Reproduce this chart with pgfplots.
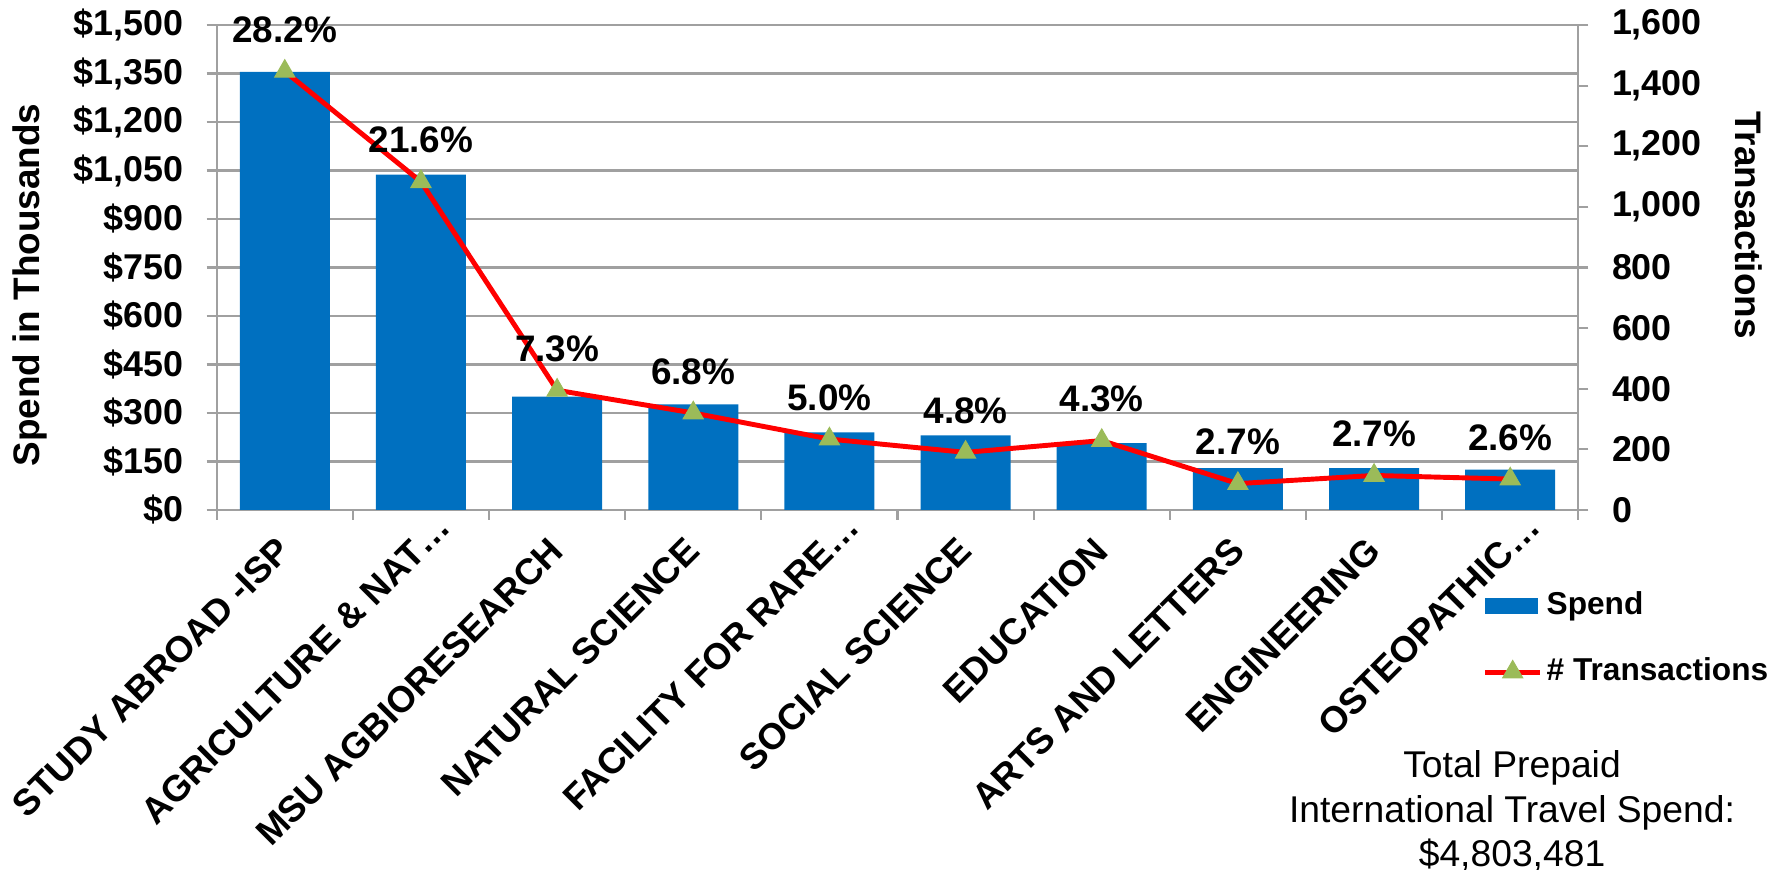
\documentclass[border=0pt]{standalone}
\usepackage{pgfplots}
\pgfplotsset{compat=1.18}
\usepackage{pgfplotstable}
\usepackage{fontspec}
\setmainfont{Liberation Sans}

\definecolor{barblue}{HTML}{0070C0}
\definecolor{markgreen}{HTML}{9BBB59}
\definecolor{gridgray}{HTML}{A0A0A0}

% spend in thousands, number of transactions, share of spend
\pgfplotstableread{
x spend tx lbl
0 1354.6 1447 28.2
1 1037.5 1083 21.6
2 350.7 395 7.3
3 326.6 320 6.8
4 240.2 234 5.0
5 230.6 190 4.8
6 206.5 229 4.3
7 129.7 87 2.7
8 129.7 114 2.7
9 124.9 102 2.6
}\spenddata

\begin{document}
\begin{tikzpicture}
\begin{axis}[
    name=main,
    width=13.616cm, height=4.85cm, scale only axis,
    xmin=-0.5, xmax=9.5, ymin=0, ymax=1500,
    axis x line*=bottom, axis y line*=left,
    axis line style={gridgray, line width=0.6pt, -},
    tick style={gridgray, line width=0.6pt},
    tick align=outside, major tick length=0.1cm,
    ymajorgrids, grid style={gridgray, line width=0.6pt},
    ytick={0,150,...,1500},
    yticklabels={\$0,\$150,\$300,\$450,\$600,\$750,\$900,{\$1,050},{\$1,200},{\$1,350},{\$1,500}},
    yticklabel style={font=\fontsize{10.2}{12}\selectfont\bfseries, inner sep=0pt, xshift=-0.23cm},
    xtick={-0.5,0.5,...,9.5}, xticklabels={},
    extra x ticks={0,...,9},
    extra x tick labels={STUDY ABROAD -ISP, AGRICULTURE \& NAT…\hspace*{-0.33cm}, MSU AGBIORESEARCH, NATURAL SCIENCE, FACILITY FOR RARE…\hspace*{-0.33cm}, SOCIAL SCIENCE, EDUCATION, ARTS AND LETTERS, ENGINEERING, OSTEOPATHIC…\hspace*{-0.33cm}},
    extra x tick style={major tick length=0pt},
    xticklabel style={font=\fontsize{10.4}{12}\selectfont\bfseries, inner sep=0pt,
        xshift=0.0cm, yshift=-0.34cm, rotate=45, anchor=east},
    ylabel={Spend in Thousands},
    every axis y label/.style={at={(axis description cs:-0.1371,0.464)}, rotate=90, anchor=center,
        font=\fontsize{10.5}{12}\selectfont\bfseries},
    clip=false,
]
\addplot[ybar, bar width=0.9cm, fill=barblue, draw=none] table[x=x, y=spend] {\spenddata};
\end{axis}

\begin{axis}[
    width=13.616cm, height=4.85cm, scale only axis,
    xmin=-0.5, xmax=9.5, ymin=0, ymax=1600,
    axis x line=none, axis y line*=right,
    axis line style={gridgray, line width=0.6pt, -},
    tick style={gridgray, line width=0.6pt},
    tick align=outside, major tick length=0.1cm,
    xtick=\empty,
    ytick={0,200,...,1600},
    yticklabels={0,200,400,600,800,{1,000},{1,200},{1,400},{1,600}},
    yticklabel style={font=\fontsize{10.2}{12}\selectfont\bfseries, inner sep=0pt, xshift=0.23cm},
    ylabel={Transactions},
    every axis y label/.style={at={(axis description cs:1.1254,0.5876)}, rotate=-90, anchor=center,
        font=\fontsize{10.5}{12}\selectfont\bfseries},
    clip=false,
    legend style={draw=none, fill=none, inner sep=0pt, at={(0.9293,-0.266)}, anchor=west,
        column sep=0.04cm, row sep=0.38cm,
        nodes={inner sep=0pt}, font=\fontsize{9}{11}\selectfont\bfseries},
    legend cell align=left,
    legend image code/.code={\draw[#1, mark repeat=2, mark phase=2] plot coordinates {(0cm,0cm) (0.275cm,0cm) (0.55cm,0cm)};},
]
\addlegendimage{legend image code/.code={\fill[barblue] (0cm,-0.075cm) rectangle (0.52cm,0.075cm);}}
\addlegendentry{Spend}
\addplot[red, line width=1.4pt, mark=triangle*, mark size=3.3pt,
    mark options={fill=markgreen, draw=markgreen, line width=0.3pt},
    point meta=explicit symbolic,
    nodes near coords={\pgfplotspointmeta\%},
    every node near coord/.append style={anchor=center, yshift=0.415cm, black,
        font=\fontsize{10.5}{12}\selectfont\bfseries},
] table[x=x, y=tx, meta=lbl] {\spenddata};
\addlegendentry{\# Transactions}
\end{axis}

\node[align=center, anchor=north, inner sep=0pt, font=\fontsize{10.6}{12.7}\selectfont]
    at ([shift={(12.953cm,-2.40cm)}]main.south west) {Total Prepaid\\International Travel Spend:\\\$4,803,481};

\pgfresetboundingbox
\path ([shift={(-2.167cm,-3.6cm)}]main.south west) rectangle ([shift={(15.653cm,5.1cm)}]main.south west);
\end{tikzpicture}
\end{document}
